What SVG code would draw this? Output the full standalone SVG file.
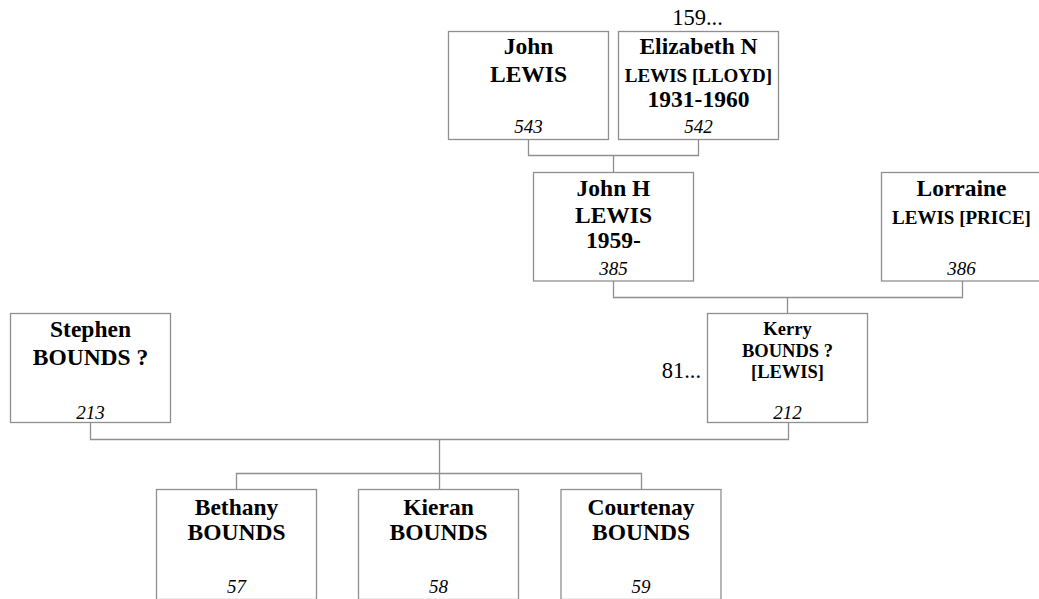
<svg xmlns="http://www.w3.org/2000/svg" width="1039" height="599" viewBox="0 0 1039 599">
<style>
.box{fill:#fff;stroke:#8f8f8f;stroke-width:1.3}
.ln{fill:none;stroke:#8f8f8f;stroke-width:1.3}
text{font-family:"Liberation Serif","Times New Roman",serif;fill:#000;text-anchor:middle}
.n{font-weight:bold;font-size:23.5px}
.s{font-weight:bold;font-size:19px}
.k{font-weight:bold;font-size:18.5px}
.id{font-style:italic;font-size:19px}
.r{font-size:22.5px}
</style>
<rect width="1039" height="599" fill="#fff"/>
<g id="connectors">
<path class="ln" d="M528.5,139.5V155.5H698.5V139.5M613.5,155.5V172.5"/>
<path class="ln" d="M613.5,281V297.5H962.5V281M787.5,297.5V313.5"/>
<path class="ln" d="M90.5,422.5V439.5H788.5V422.5M439.5,439.5V473.5"/>
<path class="ln" d="M236.5,489.5V473.5H641.5V489.5M439.5,473.5V489.5"/>
</g>
<g id="n543">
<rect class="box" x="448.5" y="31.5" width="160" height="108"/>
<text class="n" x="528.5" y="54">John</text>
<text class="n" x="528.5" y="81.5">LEWIS</text>
<text class="id" x="528.5" y="133">543</text>
</g>
<g id="n542">
<rect class="box" x="618.5" y="31.5" width="160" height="108"/>
<text class="r" x="697.5" y="25">159...</text>
<text class="n" x="698.5" y="54">Elizabeth N</text>
<text class="s" x="698.5" y="81.5">LEWIS [LLOYD]</text>
<text class="n" x="698.5" y="106.5">1931-1960</text>
<text class="id" x="698.5" y="133">542</text>
</g>
<g id="n385">
<rect class="box" x="533.5" y="172.5" width="160" height="108.5"/>
<text class="n" x="613.5" y="195.5">John H</text>
<text class="n" x="613.5" y="223">LEWIS</text>
<text class="n" x="613.5" y="248">1959-</text>
<text class="id" x="613.5" y="275">385</text>
</g>
<g id="n386">
<rect class="box" x="881.5" y="172.5" width="160" height="108.5"/>
<text class="n" x="961.5" y="195.5">Lorraine</text>
<text class="s" x="961.5" y="224">LEWIS [PRICE]</text>
<text class="id" x="961.5" y="275">386</text>
</g>
<g id="n213">
<rect class="box" x="10.5" y="313.5" width="160" height="109"/>
<text class="n" x="90.5" y="336.5">Stephen</text>
<text class="n" x="90.5" y="364.5">BOUNDS ?</text>
<text class="id" x="90.5" y="419">213</text>
</g>
<g id="n212">
<rect class="box" x="707.5" y="313.5" width="160" height="109"/>
<text class="r" x="701" y="378" style="text-anchor:end">81...</text>
<text class="k" x="787.5" y="335">Kerry</text>
<text class="k" x="787.5" y="356.5">BOUNDS ?</text>
<text class="k" x="787.5" y="378">[LEWIS]</text>
<text class="id" x="787.5" y="419">212</text>
</g>
<g id="n57">
<rect class="box" x="156.5" y="489.5" width="160" height="110"/>
<text class="n" x="236.5" y="515">Bethany</text>
<text class="n" x="236.5" y="540">BOUNDS</text>
<text class="id" x="236.5" y="593">57</text>
</g>
<g id="n58">
<rect class="box" x="358.5" y="489.5" width="160" height="110"/>
<text class="n" x="438.5" y="515">Kieran</text>
<text class="n" x="438.5" y="540">BOUNDS</text>
<text class="id" x="438.5" y="593">58</text>
</g>
<g id="n59">
<rect class="box" x="561" y="489.5" width="160" height="110"/>
<text class="n" x="641" y="515">Courtenay</text>
<text class="n" x="641" y="540">BOUNDS</text>
<text class="id" x="641" y="593">59</text>
</g>
</svg>
